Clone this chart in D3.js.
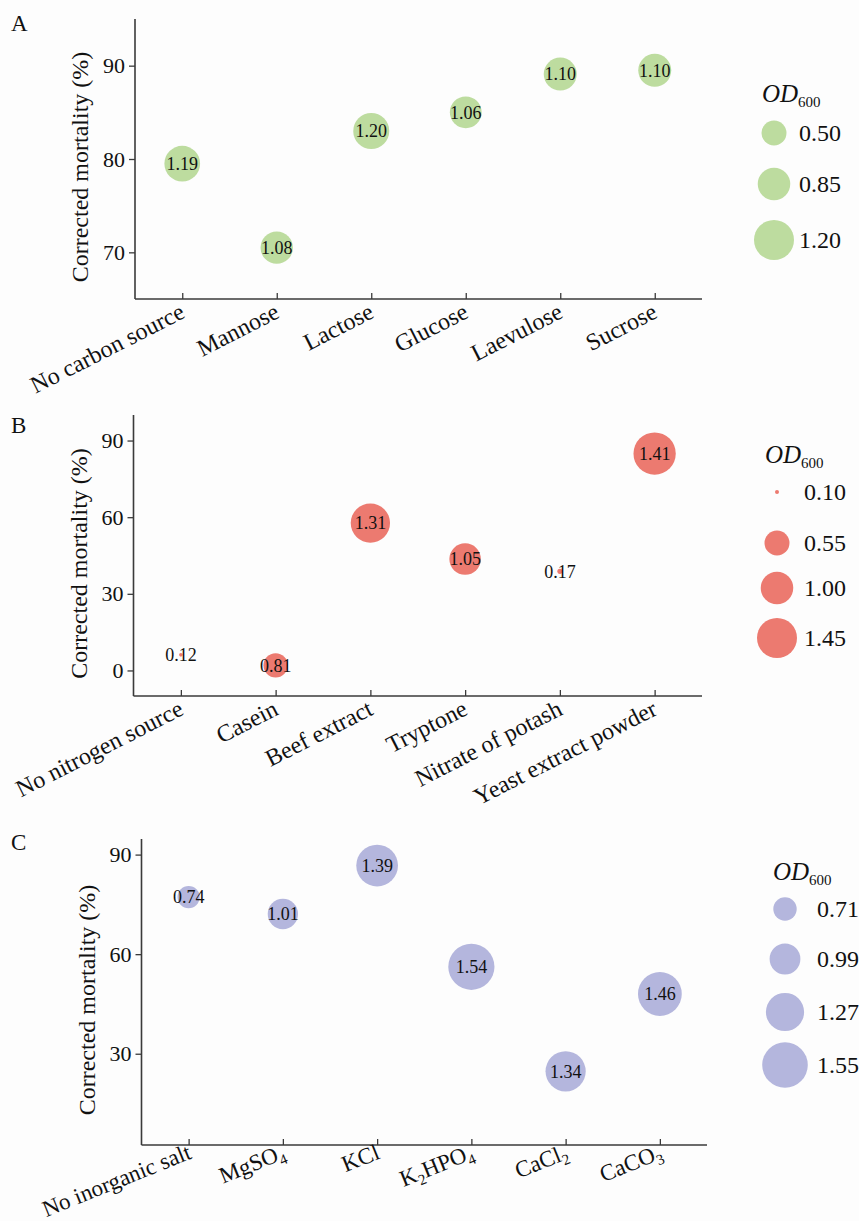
<!DOCTYPE html>
<html>
<head>
<meta charset="utf-8">
<script src="https://cdn.jsdelivr.net/npm/d3@7"></script>
<style>
  html, body { margin: 0; padding: 0; background: #fdfdfd; }
  svg { display: block; font-family: "Liberation Serif", "DejaVu Serif", serif; }
</style>
</head>
<body>
<svg id="chart" width="859" height="1221"></svg>
<script>
// ---------- Data ----------
const categoriesA = ["No carbon source", "Mannose", "Lactose", "Glucose", "Laevulose", "Sucrose"];
const mortalityA  = [79.5, 70.5, 83.0, 85.0, 89.1, 89.5];
const od600A      = [1.19, 1.08, 1.20, 1.06, 1.10, 1.10];
const legendA     = [0.50, 0.85, 1.20];
const yTicksA     = [70, 80, 90];

const categoriesB = ["No nitrogen source", "Casein", "Beef extract", "Tryptone", "Nitrate of potash", "Yeast extract powder"];
const mortalityB  = [6.1, 2.0, 57.7, 43.6, 38.8, 84.9];
const od600B      = [0.12, 0.81, 1.31, 1.05, 0.17, 1.41];
const legendB     = [0.10, 0.55, 1.00, 1.45];
const yTicksB     = [0, 30, 60, 90];

const categoriesC = ["No inorganic salt", "MgSO4", "KCl", "K2HPO4", "CaCl2", "CaCO3"];
const mortalityC  = [77.2, 72.1, 86.7, 56.2, 24.7, 48.0];
const od600C      = [0.74, 1.01, 1.39, 1.54, 1.34, 1.46];
const legendC     = [0.71, 0.99, 1.27, 1.55];
const yTicksC     = [30, 60, 90];

// ---------- Layout / style ----------
const svg = d3.select("#chart");
svg.append("rect").attr("width", 859).attr("height", 1221).attr("fill", "#fdfdfd");

const axisColor = "#3a3a3a";
const panels = [
  { letter: "A", letterY: 31, cats: categoriesA, vals: mortalityA, od: od600A, legend: legendA, ticks: yTicksA,
    color: "#bddc9f", x0: 135, x1: 702, yTop: 19, yBot: 299, dom: [65, 95],
    labAngle: -27, labFont: 24, labDx: 4, labDy: 18,
    legX: 774, legTitleY: 102, legYs: [133, 184, 240], legLabelX: 799,
    legDom: [0.5, 1.2], legRange: [12.5, 20] },
  { letter: "B", letterY: 433, cats: categoriesB, vals: mortalityB, od: od600B, legend: legendB, ticks: yTicksB,
    color: "#ec7a70", x0: 133.5, x1: 702, yTop: 415, yBot: 696, dom: [-10, 100],
    labAngle: -27, labFont: 24, labDx: 4, labDy: 18,
    legX: 777, legTitleY: 463, legYs: [492, 543, 588, 638], legLabelX: 804,
    legDom: [0.1, 0.55, 1.45], legRange: [2, 12.5, 20] },
  { letter: "C", letterY: 850, cats: categoriesC, vals: mortalityC, od: od600C, legend: legendC, ticks: yTicksC,
    color: "#b4b6dd", x0: 141.5, x1: 707, yTop: 839, yBot: 1145, dom: [2.5, 94.7],
    labAngle: -22, labFont: 23, labDx: 4, labDy: 13,
    legX: 785, legTitleY: 880, legYs: [909, 959, 1012, 1065], legLabelX: 817,
    legDom: [0.71, 1.55], legRange: [11.7, 22.8] }
];

// bubble radius (linear in OD600), shared by all panels
const rScale = d3.scaleLinear().domain([0, 1.5]).range([0, 22.5]);

function addChemLabel(sel, label) {
  // digits in chemical formulas become subscripts
  const isFormula = /^[A-Za-z0-9]+$/.test(label) && /\d/.test(label);
  if (!isFormula) { sel.text(label); return; }
  const parts = label.match(/[A-Za-z]+|\d+/g);
  parts.forEach(p => {
    if (/^\d+$/.test(p)) {
      sel.append("tspan").attr("font-size", "15px").attr("dy", "5").text(p);
      sel.append("tspan").attr("dy", "-5").text("\u200B");
    } else {
      sel.append("tspan").text(p);
    }
  });
}

panels.forEach(p => {
  const g = svg.append("g");
  const x = d3.scalePoint().domain(p.cats).range([p.x0, p.x1]).padding(0.5);
  const y = d3.scaleLinear().domain(p.dom).range([p.yBot, p.yTop]);

  // panel letter
  g.append("text").attr("x", 11).attr("y", p.letterY).attr("font-size", "23px").attr("fill", "#111").text(p.letter);

  // y axis
  const yAxis = g.append("g").attr("transform", `translate(${p.x0},0)`)
    .call(d3.axisLeft(y).tickValues(p.ticks).tickSize(6).tickPadding(4).tickFormat(d3.format("d")));
  yAxis.select(".domain").attr("stroke", axisColor).attr("stroke-width", 1.6).attr("d", `M0,${p.yTop}V${p.yBot}`);
  yAxis.selectAll(".tick line").attr("stroke", axisColor).attr("stroke-width", 1.3);
  yAxis.selectAll(".tick text").attr("font-size", "22px").attr("fill", "#111")
    .attr("font-family", "Liberation Serif, serif");

  // x axis
  const xAxis = g.append("g").attr("transform", `translate(0,${p.yBot})`)
    .call(d3.axisBottom(x).tickSize(-6).tickFormat(""));
  xAxis.select(".domain").attr("stroke", axisColor).attr("stroke-width", 1.6).attr("d", `M${p.x0},0H${p.x1}`);
  xAxis.selectAll(".tick line").attr("stroke", axisColor).attr("stroke-width", 1.3);
  xAxis.selectAll(".tick text").remove();

  // rotated category labels
  p.cats.forEach(c => {
    const t = g.append("text")
      .attr("transform", `translate(${x(c) + p.labDx},${p.yBot + p.labDy}) rotate(${p.labAngle})`)
      .attr("text-anchor", "end")
      .attr("font-size", p.labFont + "px").attr("fill", "#111");
    addChemLabel(t, c);
  });

  // y-axis title
  g.append("text")
    .attr("transform", `translate(${p.x0 - 47},${(p.yTop + p.yBot) / 2 + 8}) rotate(-90)`)
    .attr("text-anchor", "middle").attr("font-size", "24px").attr("fill", "#111")
    .text("Corrected mortality (%)");

  // bubbles
  const data = p.cats.map((c, i) => ({ cat: c, v: p.vals[i], od: p.od[i] }));
  g.selectAll("circle.bubble").data(data).join("circle")
    .attr("class", "bubble")
    .attr("cx", d => x(d.cat)).attr("cy", d => y(d.v)).attr("r", d => rScale(d.od))
    .attr("fill", p.color);
  g.selectAll("text.blabel").data(data).join("text")
    .attr("class", "blabel")
    .attr("x", d => x(d.cat)).attr("y", d => y(d.v)).attr("dy", "0.35em")
    .attr("text-anchor", "middle").attr("font-size", "18px").attr("fill", "#111")
    .text(d => d.od.toFixed(2));

  // legend
  const lg = svg.append("g");
  const lt = lg.append("text").attr("x", p.legX - 12).attr("y", p.legTitleY).attr("font-size", "25px").attr("fill", "#111");
  lt.append("tspan").attr("font-style", "italic").text("OD");
  lt.append("tspan").attr("font-size", "15px").attr("dy", "5").text("600");
  const legR = d3.scaleLinear().domain(p.legDom).range(p.legRange);
  const legY = d3.scaleOrdinal().domain(p.legend).range(p.legYs);
  lg.selectAll("circle").data(p.legend).join("circle")
    .attr("cx", p.legX).attr("cy", d => legY(d)).attr("r", d => legR(d)).attr("fill", p.color);
  lg.selectAll("text.ll").data(p.legend).join("text")
    .attr("class", "ll")
    .attr("x", p.legLabelX).attr("y", d => legY(d)).attr("dy", "0.35em")
    .attr("font-size", "24px").attr("fill", "#111")
    .text(d => d.toFixed(2));
});
</script>
</body>
</html>
